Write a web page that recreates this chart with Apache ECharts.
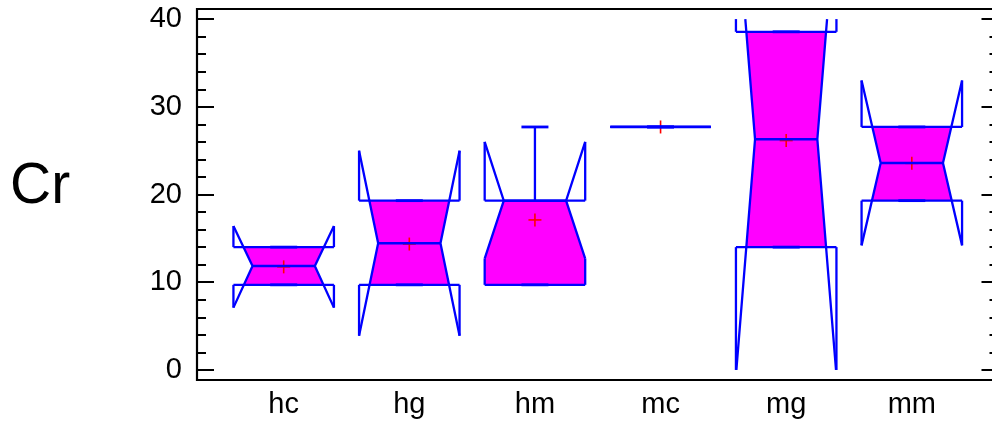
<!DOCTYPE html>
<html>
<head>
<meta charset="utf-8">
<script src="https://cdn.jsdelivr.net/npm/echarts@6/dist/echarts.min.js"></script>
<style>
  html, body { margin: 0; padding: 0; overflow: hidden; background: #fff; }
  #chart { width: 1000px; height: 427px; }
</style>
</head>
<body>
<div id="chart"></div>
<script>
// Cr concentration by group: notched box-and-whisker summary
const categories = ['hc', 'hg', 'hm', 'mc', 'mg', 'mm'];
const minVals    = [9.7, 9.7, 9.7, 27.7, 14.0, 19.3];
const q1Vals     = [9.7, 9.7, 9.7, 27.7, 14.0, 19.3];
const medianVals = [11.85, 14.45, 19.3, 27.7, 26.3, 23.6];
const q3Vals     = [14.0, 19.3, 19.3, 27.7, 38.55, 27.7];
const maxVals    = [14.0, 19.3, 27.7, 27.7, 38.55, 27.7];
const meanVals   = [11.75, 14.35, 17.1, 27.7, 26.15, 23.55];
const notchLow   = [7.1, 3.9, 12.7, 27.7, -0.6, 14.2];
const notchHigh  = [16.4, 25.0, 26.0, 27.7, 53.2, 33.0];

const majorTicks = [0, 10, 20, 30, 40];
const minorTicks = [2, 4, 6, 8, 12, 14, 16, 18, 22, 24, 26, 28, 32, 34, 36, 38];
const valueFloor = 0, valueCeil = 40;

const FONT = '"Liberation Sans", Arial, sans-serif';
const BLUE = '#0000ff';
const MAGENTA = '#ff00ff';
const LW = 2.3;

const rows = categories.map((c, i) => [
  i + 1, minVals[i], q1Vals[i], medianVals[i], q3Vals[i], maxVals[i],
  meanVals[i], notchLow[i], notchHigh[i]
]);

function renderBox(params, api) {
  const x = api.value(0);
  const vMin = api.value(1), q1 = api.value(2), med = api.value(3),
        q3 = api.value(4), vMax = api.value(5), mean = api.value(6),
        nLo = api.value(7), nHi = api.value(8);
  const halfW = 0.4;
  const L = api.coord([x - halfW, 0])[0];
  const R = api.coord([x + halfW, 0])[0];
  const C = api.coord([x, 0])[0];
  const y = v => api.coord([x, v])[1];
  const indent = (R - L) * 0.19;
  const hiRange = nHi - med, loRange = med - nLo;

  // left notch boundary offset at value v
  const off = v => {
    let t;
    if (v >= med) t = hiRange > 0 ? (v - med) / hiRange : 1;
    else t = loRange > 0 ? (med - v) / loRange : 1;
    return t >= 1 ? 0 : indent * (1 - t);
  };
  const hiC = Math.min(nHi, valueCeil);
  const loC = Math.max(nLo, valueFloor);

  // filled body between quartiles, bounded by the notch
  const levels = [q3];
  [nHi, med, nLo].forEach(v => { if (v < q3 && v > q1) levels.push(v); });
  levels.push(q1);
  levels.sort((a, b) => b - a);
  const poly = [];
  levels.forEach(v => poly.push([L + off(v), y(v)]));
  levels.slice().reverse().forEach(v => poly.push([R - off(v), y(v)]));

  const line = (pts, w, color) => ({
    type: 'polyline', shape: { points: pts },
    style: { stroke: color || BLUE, lineWidth: w || LW, fill: null }
  });

  const capHalf = 13.5;
  const ms = 6.5;
  const children = [];
  if (q3 > q1) {
    children.push({ type: 'polygon', shape: { points: poly }, style: { fill: MAGENTA, stroke: null } });
  }
  // mean marker
  children.push(line([[C - ms, y(mean)], [C + ms, y(mean)]], 1.6, '#ff0000'));
  children.push(line([[C, y(mean) - ms], [C, y(mean) + ms]], 1.6, '#ff0000'));
  // whiskers
  children.push(line([[C, y(q3)], [C, y(vMax)]]));
  children.push(line([[C, y(q1)], [C, y(vMin)]]));
  children.push(line([[C - capHalf, y(vMax)], [C + capHalf, y(vMax)]], 2.8));
  children.push(line([[C - capHalf, y(vMin)], [C + capHalf, y(vMin)]], 2.8));
  // quartile edges and median
  children.push(line([[L, y(q3)], [R, y(q3)]]));
  children.push(line([[L, y(q1)], [R, y(q1)]]));
  children.push(line([[L + off(med), y(med)], [R - off(med), y(med)]], 2.5));
  // notch outlines on both sides: straight edge outside the box, slanted notch lines
  [[L, 1], [R, -1]].forEach(([edge, dir]) => {
    if (hiC > q3) children.push(line([[edge, y(q3)], [edge, y(hiC)]]));
    if (loC < q1) children.push(line([[edge, y(q1)], [edge, y(loC)]]));
    children.push(line([
      [edge + dir * off(hiC), y(hiC)],
      [edge + dir * off(med), y(med)],
      [edge + dir * off(loC), y(loC)]
    ]));
    // straight edge inside the box beyond the notch
    if (nLo > q1) children.push(line([[edge, y(loC)], [edge, y(q1)]]));
    if (nHi < q3) children.push(line([[edge, y(hiC)], [edge, y(q3)]]));
  });

  return { type: 'group', children };
}

const yBase = {
  type: 'value', min: -1.15, max: 41.15,
  axisLine: { show: false }, splitLine: { show: false }
};
const tickStyle = { color: '#000', width: 2 };

const option = {
  animation: false,
  backgroundColor: '#fff',
  grid: {
    left: 197, top: 9, right: 1.5, bottom: 47,
    show: true, borderColor: '#000', borderWidth: 2.2, backgroundColor: 'transparent'
  },
  xAxis: {
    type: 'value', min: 0.31, max: 6.69,
    axisLine: { show: false }, axisTick: { show: false }, splitLine: { show: false },
    axisLabel: {
      customValues: categories.map((c, i) => i + 1),
      formatter: v => categories[Math.round(v) - 1],
      fontFamily: FONT, fontSize: 29, color: '#000', margin: 10
    }
  },
  yAxis: [
    Object.assign({}, yBase, {
      position: 'left',
      axisTick: { inside: true, length: 17, lineStyle: tickStyle, customValues: majorTicks },
      axisLabel: { customValues: majorTicks, fontFamily: FONT, fontSize: 29, color: '#000', margin: 15 }
    }),
    Object.assign({}, yBase, {
      position: 'left',
      axisTick: { inside: true, length: 9, lineStyle: tickStyle, customValues: minorTicks },
      axisLabel: { show: false }
    }),
    Object.assign({}, yBase, {
      position: 'right',
      axisTick: { inside: true, length: 17, lineStyle: tickStyle, customValues: majorTicks },
      axisLabel: { show: false }
    }),
    Object.assign({}, yBase, {
      position: 'right',
      axisTick: { inside: true, length: 9, lineStyle: tickStyle, customValues: minorTicks },
      axisLabel: { show: false }
    })
  ],
  graphic: [{
    type: 'text', left: 10, top: 159,
    style: { text: 'Cr', font: '57px ' + FONT, fill: '#000' }
  }],
  series: [{
    type: 'custom',
    renderItem: renderBox,
    data: rows,
    encode: { x: 0, y: [1, 5] },
    clip: false
  }]
};

const chart = echarts.init(document.getElementById('chart'), null, { renderer: 'canvas' });
chart.setOption(option);
</script>
</body>
</html>
